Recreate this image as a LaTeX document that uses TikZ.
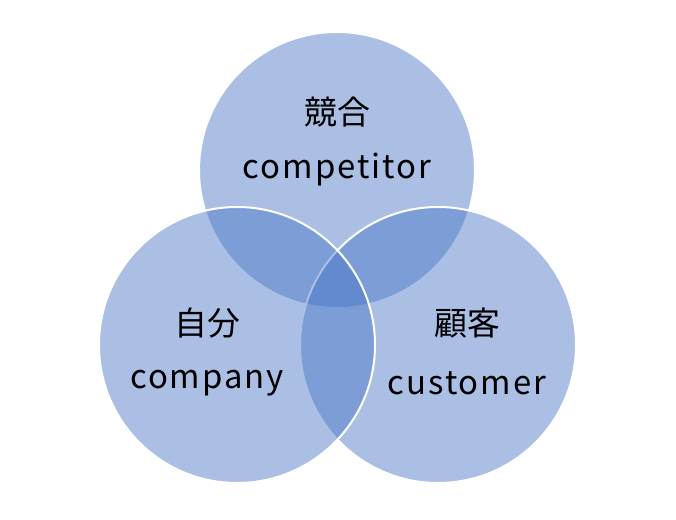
\documentclass[tikz,border=0pt]{standalone}
\usepackage{fontspec}
\setmainfont{Noto Sans CJK JP}
\newfontfamily\latinfont[LetterSpace=6]{Noto Sans CJK JP}
\usepackage{xcolor}
\definecolor{vennblue}{RGB}{68,114,196}

\begin{document}
\begin{tikzpicture}[x=1bp, y=1bp,
    set/.style={circle, draw=white, line width=2bp, fill=vennblue, fill opacity=0.45, minimum size=276bp, inner sep=0pt},
    lbl/.style={font=\fontsize{33}{38}\selectfont, text=black},
    lblen/.style={font=\fontsize{33}{38}\selectfont\latinfont, text=black}]
    \useasboundingbox (0,0) rectangle (676,520);
    % Circles
    \node[set] (top) at (337, 350) {};
    \node[set] (right) at (438, 175) {};
    \node[set] (left) at (237, 175) {};

    % Labels
    \node[lbl] (topja) at (337, 408) {競合};
    \node[lblen] (topen) at (337, 350) {competitor};
    \node[lbl] (leftja) at (207, 197) {自分};
    \node[lblen] (leften) at (207, 137) {company};
    \node[lbl] (rightja) at (467, 197) {顧客};
    \node[lblen] (righten) at (467, 137) {customer};
\end{tikzpicture}
\end{document}
